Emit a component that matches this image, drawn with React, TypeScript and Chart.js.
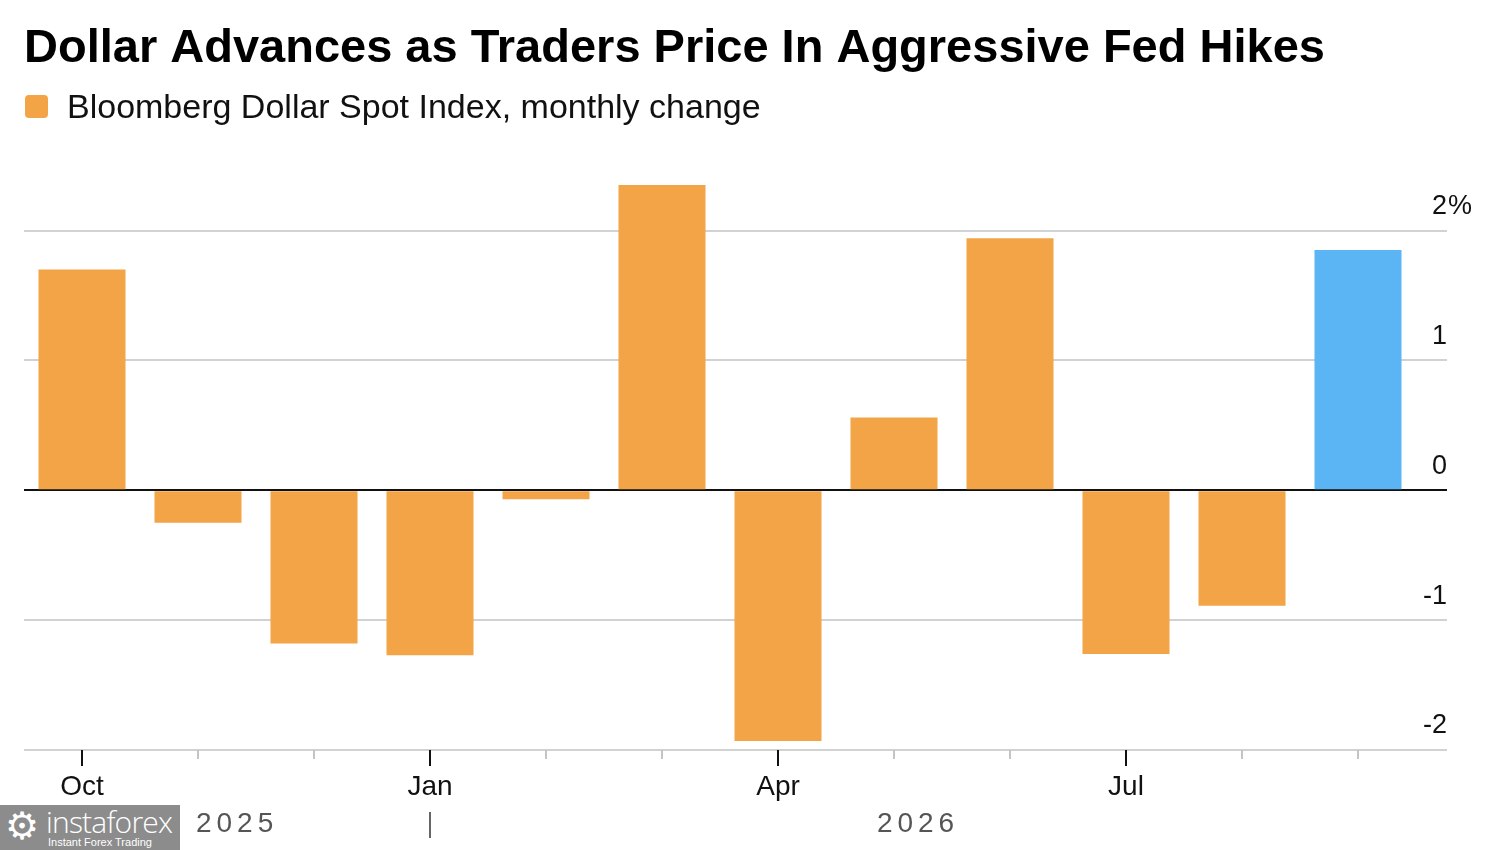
import React, { useEffect, useRef } from "react";
import { Chart, registerables } from "chart.js";

Chart.register(...registerables);

const TITLE = "Dollar Advances as Traders Price In Aggressive Fed Hikes";
const SERIES_LABEL = "Bloomberg Dollar Spot Index, monthly change";
const MONTHS = ["Oct", "Nov", "Dec", "Jan", "Feb", "Mar", "Apr", "May", "Jun", "Jul", "Aug", "Sep"];
const LABELED_MONTHS = ["Oct", "Jan", "Apr", "Jul"];
const CHANGES = [1.7, -0.25, -1.18, -1.27, -0.07, 2.35, -1.93, 0.56, 1.94, -1.26, -0.89, 1.85];
const Y_TICKS = [-2, -1, 0, 1, 2];
const YEARS = ["2025", "2026"];
const CURRENT_MONTH_INDEX = 11;

const ORANGE = "#F2A446";
const BLUE = "#5BB5F5";
const FONT = '"Liberation Sans", Arial, Helvetica, sans-serif';

const decorPlugin = {
  id: "decor",
  afterDraw(chart: any) {
    const ctx = chart.ctx;
    const xs = chart.scales.x;
    const ys = chart.scales.y;
    const area = chart.chartArea;
    ctx.save();

    // Title
    ctx.fillStyle = "#000";
    ctx.font = `bold 47px ${FONT}`;
    ctx.textAlign = "left";
    ctx.textBaseline = "alphabetic";
    ctx.fillText(TITLE, 24, 62);

    // Legend
    const sw = chart.data.datasets[0].backgroundColor[0];
    ctx.fillStyle = sw;
    ctx.beginPath();
    if (ctx.roundRect) ctx.roundRect(25, 95, 23, 23, 4);
    else ctx.rect(25, 95, 23, 23);
    ctx.fill();
    ctx.fillStyle = "#111";
    ctx.font = `34px ${FONT}`;
    ctx.fillText(chart.data.datasets[0].label, 67, 118);

    // Y tick labels
    ctx.font = `27px ${FONT}`;
    ctx.fillStyle = "#111";
    ctx.textBaseline = "middle";
    const rx = area.right + 31;
    Y_TICKS.forEach((v, i) => {
      const y = ys.getPixelForValue(v) - 24;
      ctx.textAlign = "right";
      ctx.fillText(String(v), rx, y);
      if (i === Y_TICKS.length - 1) {
        ctx.textAlign = "left";
        ctx.fillText("%", rx + 1, y);
      }
    });

    // X tick marks
    MONTHS.forEach((m, i) => {
      const x = Math.round(xs.getPixelForValue(i));
      const major = LABELED_MONTHS.includes(m);
      ctx.strokeStyle = major ? "#111" : "#c4c4c4";
      ctx.lineWidth = 2;
      ctx.beginPath();
      ctx.moveTo(x, area.bottom);
      ctx.lineTo(x, area.bottom + (major ? 16 : 9));
      ctx.stroke();
    });

    // Year row
    ctx.fillStyle = "#555";
    ctx.font = `28px ${FONT}`;
    ctx.textAlign = "center";
    ctx.textBaseline = "middle";
    try { (ctx as any).letterSpacing = "5px"; } catch (e) {}
    ctx.fillText(YEARS[0], xs.getPixelForValue(1.32) + 2, 824);
    ctx.fillText(YEARS[1], xs.getPixelForValue(7.19) + 2, 824);
    try { (ctx as any).letterSpacing = "0px"; } catch (e) {}
    const sep = Math.round(xs.getPixelForValue(MONTHS.indexOf("Jan")));
    ctx.strokeStyle = "#666";
    ctx.lineWidth = 2;
    ctx.beginPath();
    ctx.moveTo(sep, 812);
    ctx.lineTo(sep, 838);
    ctx.stroke();

    ctx.restore();
  },
};

export default function App() {
  const ref = useRef<HTMLCanvasElement | null>(null);

  useEffect(() => {
    if (!ref.current) return;
    const chart = new Chart(ref.current, {
      type: "bar",
      data: {
        labels: MONTHS,
        datasets: [
          {
            label: SERIES_LABEL,
            data: CHANGES,
            backgroundColor: CHANGES.map((_, i) => (i === CURRENT_MONTH_INDEX ? BLUE : ORANGE)),
            borderWidth: 0,
            barPercentage: 0.75,
            categoryPercentage: 1,
          },
        ],
      },
      options: {
        responsive: false,
        animation: false,
        devicePixelRatio: 1,
        layout: { padding: { top: 178.6, left: 24, right: 0, bottom: 0 } },
        plugins: {
          legend: { display: false },
          title: { display: false },
          tooltip: { enabled: false },
        },
        scales: {
          x: {
            type: "category",
            offset: true,
            grid: { display: false, drawTicks: false },
            border: { display: false },
            ticks: {
              autoSkip: false,
              maxRotation: 0,
              minRotation: 0,
              padding: 20,
              color: "#111",
              font: { family: FONT, size: 28 },
              callback: (_v: any, i: number) => (LABELED_MONTHS.includes(MONTHS[i]) ? MONTHS[i] : ""),
            },
            afterFit: (s: any) => {
              s.height = 100;
            },
          },
          y: {
            position: "right",
            min: -2,
            max: 2.4,
            afterBuildTicks: (s: any) => {
              s.ticks = Y_TICKS.map((v) => ({ value: v }));
            },
            grid: {
              color: (c: any) => (c.tick && c.tick.value === 0 ? "#111" : "#d2d2d2"),
              lineWidth: 2,
              drawTicks: true,
              tickLength: 31,
            },
            border: { display: false },
            ticks: { display: false },
            afterFit: (s: any) => {
              s.width = 84;
            },
          },
        },
      },
      plugins: [decorPlugin],
    } as any);
    return () => chart.destroy();
  }, []);

  return (
    <div style={{ position: "fixed", left: 0, top: 0, width: 1500, height: 850, background: "#fff" }}>
      <canvas ref={ref} width={1500} height={850} style={{ display: "block" }} />
      <div
        style={{
          position: "absolute",
          left: 0,
          top: 805,
          width: 180,
          height: 45,
          background: "#8c8c8c",
          color: "#fff",
          fontFamily: FONT,
          overflow: "hidden",
        }}
      >
        <div style={{ position: "absolute", left: 5, top: 1, fontSize: 38, lineHeight: "40px" }}>⚙</div>
        <div style={{ position: "absolute", left: 46, top: -1, fontSize: 30, lineHeight: "36px", fontFamily: '"Open Sans", Roboto, sans-serif', fontWeight: 300, letterSpacing: -0.8 }}>
          instaforex
        </div>
        <div style={{ position: "absolute", left: 48, top: 31, fontSize: 11, lineHeight: "12px" }}>Instant Forex Trading</div>
      </div>
    </div>
  );
}
